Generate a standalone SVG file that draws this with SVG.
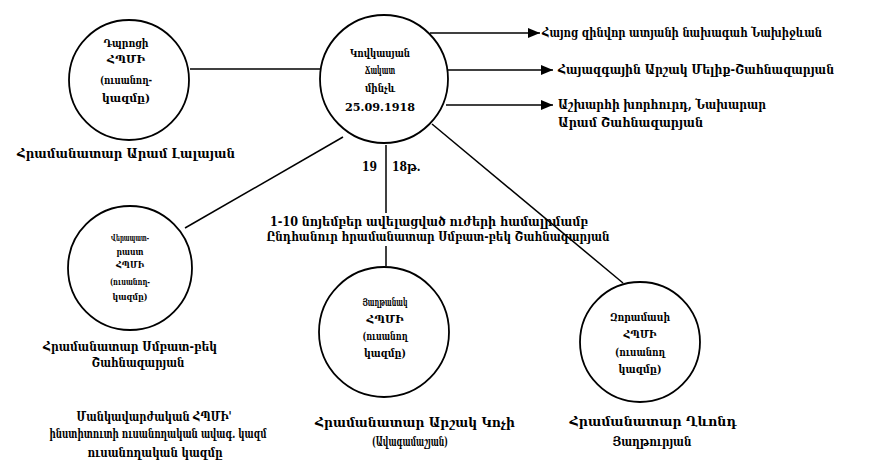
<svg xmlns="http://www.w3.org/2000/svg" width="869" height="471" viewBox="0 0 869 471">
<style>
text{font-family:"DejaVu Serif Condensed","DejaVu Serif","DejaVu Sans",serif;fill:#000;font-weight:bold}
.c{font-size:12px;text-anchor:middle}
.n{font-size:11px;text-anchor:middle}
.s{font-size:9.5px;text-anchor:middle}
.l{font-size:12px}
.node{fill:#fff;stroke:#000;stroke-width:1.8}
.ln{stroke:#000;stroke-width:1.5;fill:none}
</style>
<defs>
<marker id="ah" viewBox="0 0 12 10" refX="12" refY="5" markerWidth="12" markerHeight="10" markerUnits="userSpaceOnUse" orient="auto">
<path d="M0,0 L12,5 L0,10 Z" fill="#000"/>
</marker>
</defs>
<rect width="869" height="471" fill="#fff"/>
<g id="connectors">
<line class="ln" x1="190" y1="69" x2="320" y2="69"/>
<line class="ln" x1="430" y1="33" x2="540" y2="33" marker-end="url(#ah)"/>
<line class="ln" x1="448" y1="70" x2="553" y2="70" marker-end="url(#ah)"/>
<line class="ln" x1="446" y1="105" x2="553" y2="105" marker-end="url(#ah)"/>
<line class="ln" x1="343" y1="137" x2="185" y2="228"/>
<line class="ln" x1="386" y1="145" x2="386" y2="213"/>
<line class="ln" x1="386" y1="246" x2="386" y2="266"/>
<line class="ln" x1="432" y1="124" x2="623" y2="283"/>
</g>
<g id="node-topleft">
<circle class="node" cx="129" cy="80" r="60"/>
<text class="n" x="126" y="47" textLength="45" lengthAdjust="spacingAndGlyphs">Դպրոցի</text>
<text class="n" x="126" y="63" textLength="38" lengthAdjust="spacingAndGlyphs">ՀՊՄԻ</text>
<text class="n" x="126" y="84" textLength="52" lengthAdjust="spacingAndGlyphs">(ուսանող-</text>
<text class="n" x="126" y="102" textLength="48" lengthAdjust="spacingAndGlyphs">կազմը)</text>
<text class="c" x="126" y="158" textLength="218" lengthAdjust="spacingAndGlyphs">Հրամանատար Արամ Լալայան</text>
</g>
<g id="node-center">
<circle class="node" cx="384" cy="79" r="64"/>
<text class="n" x="380" y="57" textLength="60" lengthAdjust="spacingAndGlyphs">Կովկասյան</text>
<text class="n" x="380" y="74" textLength="30" lengthAdjust="spacingAndGlyphs">Ճակատ</text>
<text class="n" x="380" y="92" textLength="30" lengthAdjust="spacingAndGlyphs">մինչև</text>
<text class="n" x="380" y="111" textLength="70" lengthAdjust="spacingAndGlyphs">25.09.1918</text>
</g>
<g id="label-right-1">
<text class="l" x="542" y="37" textLength="280" lengthAdjust="spacingAndGlyphs">Հայոց զինվոր ատյանի նախագահ Նախիջևան</text>
</g>
<g id="label-right-2">
<text class="l" x="558" y="74" textLength="276" lengthAdjust="spacingAndGlyphs">Հայազգային Արշակ Մելիք-Շահնազարյան</text>
</g>
<g id="label-right-3">
<text class="l" x="558" y="109" textLength="208" lengthAdjust="spacingAndGlyphs">Աշխարհի խորհուրդ, Նախարար</text>
<text class="l" x="558" y="127" textLength="145" lengthAdjust="spacingAndGlyphs">Արամ Շահնազարյան</text>
</g>
<g id="label-year">
<text class="l"><tspan x="362" y="171">19</tspan><tspan x="392" y="171">18թ.</tspan></text>
</g>
<g id="label-middle">
<text class="c" x="429" y="226" textLength="318" lengthAdjust="spacingAndGlyphs">1-10 նոյեմբեր ավելացված ուժերի համալրմամբ</text>
<text class="c" x="438" y="241" textLength="343" lengthAdjust="spacingAndGlyphs">Ընդհանուր հրամանատար Սմբատ-բեկ Շահնազարյան</text>
</g>
<g id="node-bottomleft">
<circle class="node" cx="130" cy="268" r="62"/>
<text class="s" x="130" y="241" textLength="38" lengthAdjust="spacingAndGlyphs">Վերապատ-</text>
<text class="s" x="130" y="255" textLength="27" lengthAdjust="spacingAndGlyphs">րաստ</text>
<text class="s" x="130" y="268" textLength="28" lengthAdjust="spacingAndGlyphs">ՀՊՄԻ</text>
<text class="s" x="130" y="285" textLength="40" lengthAdjust="spacingAndGlyphs">(ուսանող-</text>
<text class="s" x="130" y="300" textLength="35" lengthAdjust="spacingAndGlyphs">կազմը)</text>
<text class="c" x="130" y="351" textLength="174" lengthAdjust="spacingAndGlyphs">Հրամանատար Սմբատ-բեկ</text>
<text class="c" x="138" y="367" textLength="93" lengthAdjust="spacingAndGlyphs">Շահնազարյան</text>
</g>
<g id="label-bottom">
<text class="c" x="154" y="421" textLength="155" lengthAdjust="spacingAndGlyphs">Մանկավարժական ՀՊՄԻ'</text>
<text class="c" x="158" y="438" textLength="217" lengthAdjust="spacingAndGlyphs">ինստիտուտի ուսանողական ավագ. կազմ</text>
<text class="c" x="155" y="457" textLength="135" lengthAdjust="spacingAndGlyphs">ուսանողական կազմը</text>
</g>
<g id="node-bottommiddle">
<circle class="node" cx="384" cy="332" r="65"/>
<text class="n" x="385" y="306" textLength="45" lengthAdjust="spacingAndGlyphs">Յաղթանակ</text>
<text class="n" x="385" y="323" textLength="37" lengthAdjust="spacingAndGlyphs">ՀՊՄԻ</text>
<text class="n" x="385" y="340" textLength="45" lengthAdjust="spacingAndGlyphs">(ուսանող</text>
<text class="n" x="385" y="357" textLength="42" lengthAdjust="spacingAndGlyphs">կազմը)</text>
<text class="c" x="415" y="427" textLength="200" lengthAdjust="spacingAndGlyphs">Հրամանատար Արշակ Կոչի</text>
<text class="c" x="410" y="446" textLength="76" lengthAdjust="spacingAndGlyphs">(Ավագամաշյան)</text>
</g>
<g id="node-bottomright">
<circle class="node" cx="640" cy="342" r="60"/>
<text class="n" x="640" y="321" textLength="60" lengthAdjust="spacingAndGlyphs">Զորամասի</text>
<text class="n" x="640" y="338" textLength="33" lengthAdjust="spacingAndGlyphs">ՀՊՄԻ</text>
<text class="n" x="640" y="356" textLength="50" lengthAdjust="spacingAndGlyphs">(ուսանող</text>
<text class="n" x="640" y="373" textLength="43" lengthAdjust="spacingAndGlyphs">կազմը)</text>
<text class="c" x="653" y="426" textLength="167" lengthAdjust="spacingAndGlyphs">Հրամանատար Ղևոնդ</text>
<text class="c" x="652" y="446" textLength="79" lengthAdjust="spacingAndGlyphs">Յաղթուրյան</text>
</g>
</svg>
